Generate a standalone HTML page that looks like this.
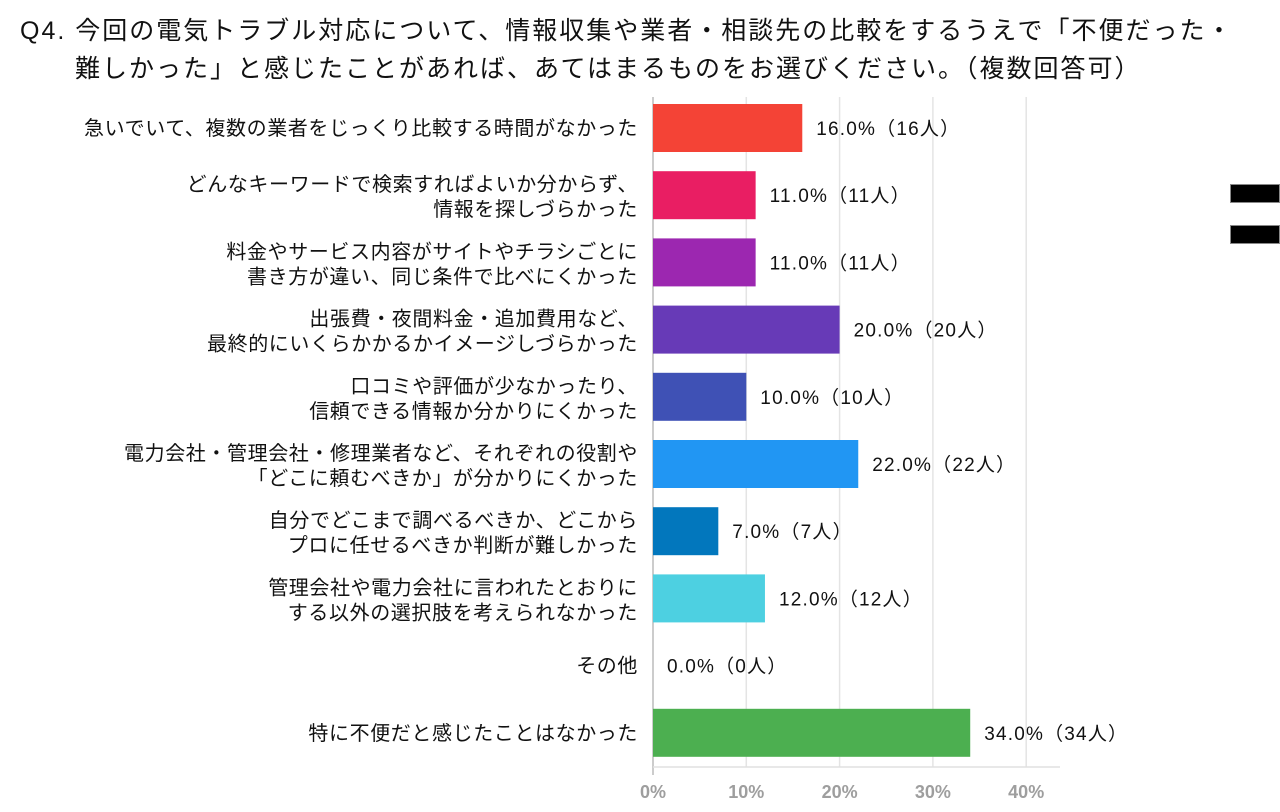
<!DOCTYPE html>
<html><head><meta charset="utf-8"><style>
body{margin:0;width:1280px;height:812px;background:#fff;overflow:hidden;font-family:"Liberation Sans","Noto Sans CJK JP",sans-serif;}
#title{position:absolute;left:20px;top:12px;font-size:25px;letter-spacing:2px;line-height:38px;color:#111;white-space:nowrap;}
svg{position:absolute;left:0;top:0;}
.blk{position:absolute;left:1230px;width:50px;height:19px;background:#000;border:1px solid #888;box-sizing:border-box;}
</style></head><body>
<div id="title">Q4. 今回の電気トラブル対応について、情報収集や業者・相談先の比較をするうえで「不便だった・<br><span style="padding-left:55px">難しかった」と感じたことがあれば、あてはまるものをお選びください。（複数回答可）</span></div>
<div class="blk" style="top:184px"></div>
<div class="blk" style="top:225px"></div>
<svg id="chart" width="1280" height="812"></svg>
<script>
const categories=[
["急いでいて、複数の業者をじっくり比較する時間がなかった"],
["どんなキーワードで検索すればよいか分からず、","情報を探しづらかった"],
["料金やサービス内容がサイトやチラシごとに","書き方が違い、同じ条件で比べにくかった"],
["出張費・夜間料金・追加費用など、","最終的にいくらかかるかイメージしづらかった"],
["口コミや評価が少なかったり、","信頼できる情報か分かりにくかった"],
["電力会社・管理会社・修理業者など、それぞれの役割や","「どこに頼むべきか」が分かりにくかった"],
["自分でどこまで調べるべきか、どこから","プロに任せるべきか判断が難しかった"],
["管理会社や電力会社に言われたとおりに","する以外の選択肢を考えられなかった"],
["その他"],
["特に不便だと感じたことはなかった"]];
const values=[16,11,11,20,10,22,7,12,0,34];
const counts=[16,11,11,20,10,22,7,12,0,34];
const colors=["#f44336","#e91e63","#9c27b0","#673ab7","#3f51b5","#2196f3","#0277bd","#4dd0e1","#26c6da","#4caf50"];
const ticks=[0,10,20,30,40];
const svg=document.getElementById('chart');
const NS='http://www.w3.org/2000/svg';
const x0=653,pxPer=9.33,yTop=104,step=67.2,bh=48,yBottom=767;
const X=v=>x0+v*pxPer;
function el(t,a){const e=document.createElementNS(NS,t);for(const k in a)e.setAttribute(k,a[k]);svg.appendChild(e);return e;}
ticks.forEach((t,i)=>{
 if(t>0){const g=el('line',{x1:X(t),x2:X(t),y1:97,y2:yBottom,stroke:'#e4e4e4','stroke-width':1.5});
 
 }
 const tl=el('text',{x:X(t),y:798,'text-anchor':'middle','font-size':18,'font-weight':'bold',fill:'#9e9e9e'});
 tl.textContent=t+'%';
 
 
});
const ax=el('line',{x1:x0,x2:x0,y1:97,y2:yBottom+8,stroke:'#bbb','stroke-width':1.5});


const bx=el('line',{x1:x0,x2:1060,y1:yBottom,y2:yBottom,stroke:'#e0e0e0','stroke-width':1.5});


values.forEach((v,i)=>{
 const y=yTop+i*step;
 const r=el('rect',{x:x0,y:y,width:Math.max(0,X(v)-x0),height:bh,fill:colors[i]});
 
 
 const lt=el('text',{x:X(v)+14,y:y+bh/2+7,'font-size':19,'letter-spacing':1.2,fill:'#111'});
 lt.textContent=v.toFixed(1)+'%（'+counts[i]+'人）';
 
 
 const lines=categories[i];
 lines.forEach((s,j)=>{
  const off=lines.length===1?7:(j===0?-4:21);
  const c=el('text',{x:638,y:y+bh/2+off,'text-anchor':'end','font-size':20,'letter-spacing':0.6,fill:'#111'});
  c.textContent=s;
  
  
 });
});
</script>
</body></html>
